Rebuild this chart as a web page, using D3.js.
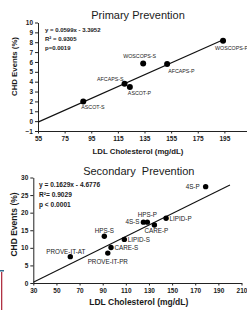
<!DOCTYPE html>
<html>
<head>
<meta charset="utf-8">
<script src="https://cdnjs.cloudflare.com/ajax/libs/d3/7.8.5/d3.min.js"></script>
<style>
  body { margin: 0; background: #fff; }
  svg text { font-family: "Liberation Sans", Arial, sans-serif; fill: #1a1a1a; }
</style>
</head>
<body>
<div id="chart"></div>
<script>
// primary prevention
let primNames = ["ASCOT-S", "AFCAPS-S", "ASCOT-P", "WOSCOPS-S", "AFCAPS-P", "WOSCOPS-P"];
let primLdl   = [89, 120, 124, 134, 152, 194];
let primChd   = [2.0, 3.8, 3.45, 5.85, 5.8, 8.15];
let primFit   = [[55, -0.1], [195, 8.29]];
let primText  = ["y = 0.0599x - 3.3952", "R\u00b2 = 0.9305", "p=0.0019"];
let primXTicks = [55, 75, 95, 115, 135, 155, 175, 195];
let primYTicks = [-1, 0, 1, 2, 3, 4, 5, 6, 7, 8, 9, 10];

// secondary prevention
let secNames = ["4S-P", "HPS-P", "4S-S", "LIPID-P", "CARE-P", "HPS-S", "LIPID-S", "CARE-S", "PROVE-IT-PR", "PROVE-IT-AT"];
let secLdl   = [179, 128.6, 125.2, 144.8, 134.7, 91.4, 108.7, 97.2, 94.4, 62];
let secChd   = [27.4, 17.3, 17.3, 18.4, 16.5, 13.3, 12.4, 10.1, 8.5, 7.5];
let secFit   = [[30, 0.2], [200, 27.9]];
let secText  = ["y = 0.1629x - 4.6776", "R\u00b2= 0.9029", "p < 0.0001"];
let secXTicks = [30, 50, 70, 90, 110, 130, 150, 170, 190, 210];
let secYTicks = [0, 5, 10, 15, 20, 25, 30];

// label placement (anchor, dx, dy)
let primLab = {
    "ASCOT-S":   ["start", -2, 8],
    "AFCAPS-S":  ["end", -1, -2.5],
    "ASCOT-P":   ["start", -2, 8],
    "WOSCOPS-S": ["middle", -3.5, -5.5],
    "AFCAPS-P":  ["start", 1, 9],
    "WOSCOPS-P": ["start", -8, 9.5]
};
let secLab = {
    "4S-P":        ["end", -6, 2.5],
    "HPS-P":       ["middle", 0, -5],
    "4S-S":        ["end", -4, 2.3],
    "LIPID-P":     ["start", 3.5, 2.3],
    "CARE-P":      ["middle", 2, 7.6],
    "HPS-S":       ["middle", 0, -3.5],
    "LIPID-S":     ["start", 3.5, 3],
    "CARE-S":      ["start", 3.5, 2.6],
    "PROVE-IT-PR": ["middle", 0, 10.5],
    "PROVE-IT-AT": ["middle", -4.5, -3]
};

let larg = 247;
let alt = 310;

let svg = d3.select("#chart")
            .append("svg")
            .attr("width", larg)
            .attr("height", alt);

function drawPanel(o) {
    let x = d3.scaleLinear().domain(o.xDom).range(o.xRange);
    let y = d3.scaleLinear().domain(o.yDom).range(o.yRange);
    let g = svg.append("g");

    let ax = g.append("g")
        .attr("transform", "translate(0," + o.yRange[0] + ")")
        .call(d3.axisBottom(x).tickValues(o.xTicks).tickSize(2.5).tickSizeOuter(0).tickPadding(3));
    let ay = g.append("g")
        .attr("transform", "translate(" + o.xRange[0] + ",0)")
        .call(d3.axisLeft(y).tickValues(o.yTicks).tickSize(3).tickSizeOuter(0).tickPadding(2));
    [ax, ay].forEach(a => {
        a.selectAll("path, line").attr("stroke", "#222");
        a.selectAll("text")
            .style("font-size", o.tickFont + "px")
            .style("font-weight", "bold")
            .attr("fill", "#1a1a1a");
    });

    // fit line
    g.append("path")
        .attr("d", d3.line().x(d => x(d[0])).y(d => y(d[1]))(o.fit))
        .attr("stroke", "#111")
        .attr("stroke-width", 1.1)
        .attr("fill", "none");

    let pts = o.names.map((n, i) => ({name: n, ldl: o.ldl[i], chd: o.chd[i]}));

    g.selectAll("circle.pt")
        .data(pts)
        .enter()
        .append("circle")
        .attr("class", "pt")
        .attr("cx", d => x(d.ldl))
        .attr("cy", d => y(d.chd))
        .attr("r", o.r)
        .attr("fill", "#000");

    g.selectAll("text.lab")
        .data(pts)
        .enter()
        .append("text")
        .attr("class", "lab")
        .attr("x", d => x(d.ldl) + o.lab[d.name][1])
        .attr("y", d => y(d.chd) + o.lab[d.name][2])
        .attr("text-anchor", d => o.lab[d.name][0])
        .style("font-size", o.labFont + "px")
        .text(d => d.name);

    // equation text
    g.selectAll("text.eq")
        .data(o.text)
        .enter()
        .append("text")
        .attr("class", "eq")
        .attr("x", o.eqX)
        .attr("y", (d, i) => o.eqY + i * o.eqGap)
        .style("font-size", o.eqFont + "px")
        .style("font-weight", "bold")
        .text(d => d);

    g.append("text")
        .attr("x", o.titleX)
        .attr("y", o.titleY)
        .attr("text-anchor", "middle")
        .style("font-size", "11px")
        .style("white-space", "pre")
        .text(o.title);

    g.append("text")
        .attr("x", o.titleX)
        .attr("y", o.xLabY)
        .attr("text-anchor", "middle")
        .style("font-size", o.axFont + "px")
        .style("font-weight", "bold")
        .text("LDL Cholesterol (mg/dL)");

    g.append("text")
        .attr("transform", "translate(17," + o.yLabY + ") rotate(-90)")
        .attr("text-anchor", "middle")
        .style("font-size", o.axFont + "px")
        .style("font-weight", "bold")
        .text("CHD Events (%)");
}

drawPanel({
    names: primNames, ldl: primLdl, chd: primChd, fit: primFit, text: primText,
    xTicks: primXTicks, yTicks: primYTicks, lab: primLab,
    xDom: [55, 215], xRange: [38, 251],
    yDom: [-1, 10], yRange: [131, 22.5],
    r: 3, tickFont: 6.5, labFont: 5.3, eqFont: 6, eqX: 45, eqY: 32, eqGap: 9,
    title: "Primary Prevention", titleX: 138, titleY: 18.5,
    xLabY: 153.5, yLabY: 66.5, axFont: 7.8
});

drawPanel({
    names: secNames, ldl: secLdl, chd: secChd, fit: secFit, text: secText,
    xTicks: secXTicks, yTicks: secYTicks, lab: secLab,
    xDom: [30, 210], xRange: [33.3, 241.5],
    yDom: [0, 30], yRange: [283, 177.5],
    r: 2.7, tickFont: 6.5, labFont: 6.3, eqFont: 6.6, eqX: 39, eqY: 186.7, eqGap: 10,
    title: "Secondary  Prevention", titleX: 138.8, titleY: 174.5,
    xLabY: 304.5, yLabY: 224.5, axFont: 8.5
});

// edge marks at the lower left of the picture
svg.append("rect").attr("x", 0).attr("y", 270).attr("width", 4).attr("height", 1.5).attr("fill", "#2f6c8c");
svg.append("rect").attr("x", 1).attr("y", 272).attr("width", 1.3).attr("height", 38).attr("fill", "#b03344");
</script>
</body>
</html>
